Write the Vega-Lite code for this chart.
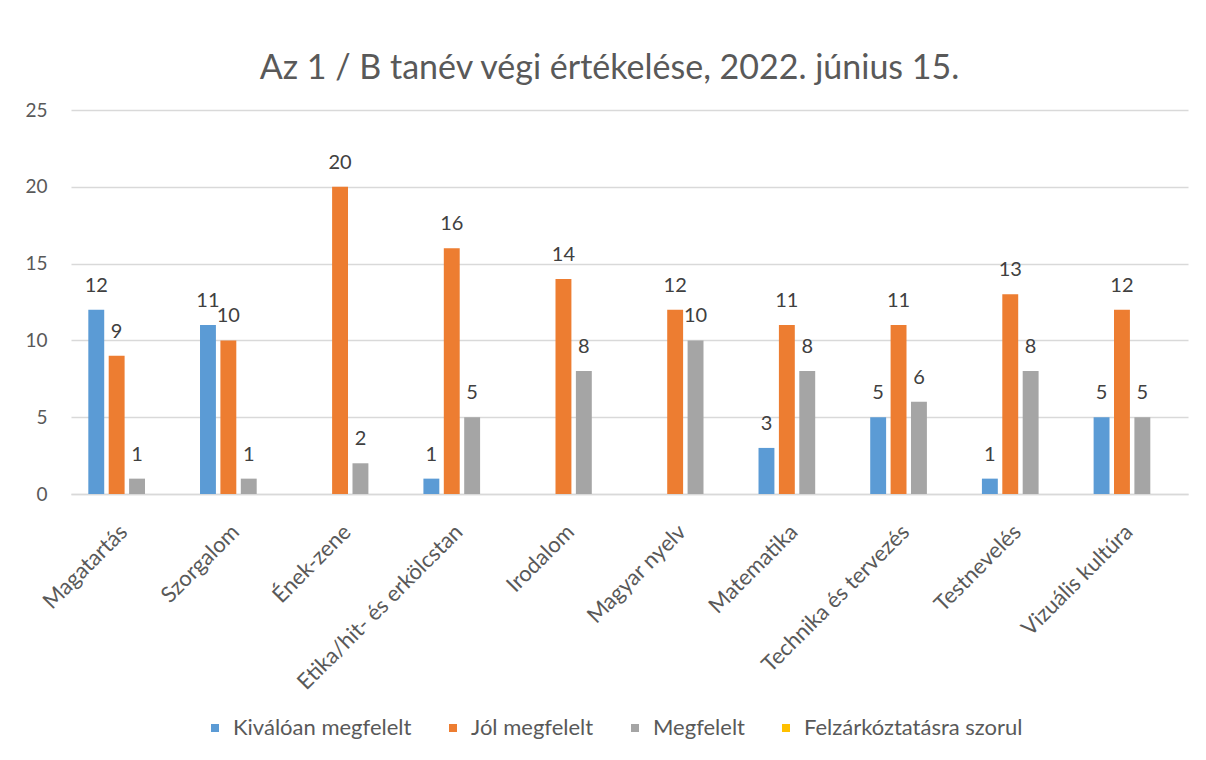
{
  "$schema": "https://vega.github.io/schema/vega-lite/v6.json",
  "autosize": {"type": "none"},
  "padding": {"left": 71, "top": 110, "right": 18, "bottom": 266},
  "width": 1117,
  "height": 384,
  "background": "white",
  "title": {
    "text": "Az 1 / B tanév végi értékelése, 2022. június 15.",
    "font": "Lato",
    "fontSize": 34,
    "fontWeight": "normal",
    "color": "#595959",
    "anchor": "middle",
    "frame": "group",
    "dx": -20,
    "dy": 43,
    "offset": 31,
    "baseline": "alphabetic"
  },
  "data": {
    "values": [
      {"subject": "Magatartás", "series": "Kiválóan megfelelt", "value": 12},
      {"subject": "Magatartás", "series": "Jól megfelelt", "value": 9},
      {"subject": "Magatartás", "series": "Megfelelt", "value": 1},
      {"subject": "Szorgalom", "series": "Kiválóan megfelelt", "value": 11},
      {"subject": "Szorgalom", "series": "Jól megfelelt", "value": 10},
      {"subject": "Szorgalom", "series": "Megfelelt", "value": 1},
      {"subject": "Ének-zene", "series": "Jól megfelelt", "value": 20},
      {"subject": "Ének-zene", "series": "Megfelelt", "value": 2},
      {"subject": "Etika/hit- és erkölcstan", "series": "Kiválóan megfelelt", "value": 1},
      {"subject": "Etika/hit- és erkölcstan", "series": "Jól megfelelt", "value": 16},
      {"subject": "Etika/hit- és erkölcstan", "series": "Megfelelt", "value": 5},
      {"subject": "Irodalom", "series": "Jól megfelelt", "value": 14},
      {"subject": "Irodalom", "series": "Megfelelt", "value": 8},
      {"subject": "Magyar nyelv", "series": "Jól megfelelt", "value": 12},
      {"subject": "Magyar nyelv", "series": "Megfelelt", "value": 10},
      {"subject": "Matematika", "series": "Kiválóan megfelelt", "value": 3},
      {"subject": "Matematika", "series": "Jól megfelelt", "value": 11},
      {"subject": "Matematika", "series": "Megfelelt", "value": 8},
      {"subject": "Technika és tervezés", "series": "Kiválóan megfelelt", "value": 5},
      {"subject": "Technika és tervezés", "series": "Jól megfelelt", "value": 11},
      {"subject": "Technika és tervezés", "series": "Megfelelt", "value": 6},
      {"subject": "Testnevelés", "series": "Kiválóan megfelelt", "value": 1},
      {"subject": "Testnevelés", "series": "Jól megfelelt", "value": 13},
      {"subject": "Testnevelés", "series": "Megfelelt", "value": 8},
      {"subject": "Vizuális kultúra", "series": "Kiválóan megfelelt", "value": 5},
      {"subject": "Vizuális kultúra", "series": "Jól megfelelt", "value": 12},
      {"subject": "Vizuális kultúra", "series": "Megfelelt", "value": 5}
    ]
  },
  "encoding": {
    "x": {
      "field": "subject",
      "type": "nominal",
      "sort": ["Magatartás", "Szorgalom", "Ének-zene", "Etika/hit- és erkölcstan", "Irodalom", "Magyar nyelv", "Matematika", "Technika és tervezés", "Testnevelés", "Vizuális kultúra"],
      "scale": {"paddingInner": 0.31, "paddingOuter": 0.155},
      "axis": {
        "title": null,
        "labelAngle": -45,
        "labelAlign": "right",
        "labelBaseline": "middle",
        "labelPadding": 34,
        "labelOffset": -3,
        "labelFont": "Lato",
        "labelFontSize": 22,
        "labelColor": "#595959",
        "labelLimit": 500,
        "ticks": false,
        "domainColor": "#D9D9D9",
        "domainWidth": 1.3,
        "grid": false
      }
    },
    "xOffset": {
      "field": "series",
      "type": "nominal",
      "scale": {
        "domain": ["Kiválóan megfelelt", "Jól megfelelt", "Megfelelt", "Felzárkóztatásra szorul"],
        "paddingInner": 0.22,
        "paddingOuter": 0
      }
    },
    "y": {
      "field": "value",
      "type": "quantitative",
      "scale": {"domain": [0, 25], "nice": false},
      "axis": {
        "title": null,
        "values": [0, 5, 10, 15, 20, 25],
        "labelFont": "Lato",
        "labelFontSize": 19,
        "labelColor": "#595959",
        "labelPadding": 24,
        "ticks": false,
        "domain": false,
        "gridColor": "#D9D9D9",
        "gridWidth": 1.3
      }
    }
  },
  "layer": [
    {
      "mark": {"type": "bar"},
      "encoding": {
        "color": {
          "field": "series",
          "type": "nominal",
          "scale": {
            "domain": ["Kiválóan megfelelt", "Jól megfelelt", "Megfelelt", "Felzárkóztatásra szorul"],
            "range": ["#5B9BD5", "#ED7D31", "#A5A5A5", "#FFC000"]
          },
          "legend": {
            "title": null,
            "orient": "none",
            "direction": "horizontal",
            "legendX": 133,
            "legendY": 607,
            "symbolType": "square",
            "symbolSize": 64,
            "symbolStrokeWidth": 0,
            "labelFont": "Lato",
            "labelFontSize": 22,
            "labelColor": "#595959",
            "labelOffset": 7,
            "columnPadding": 30,
            "labelLimit": 500
          }
        }
      }
    },
    {
      "mark": {"type": "text", "baseline": "alphabetic", "dy": -18, "font": "Lato", "fontSize": 20, "color": "#404040"},
      "encoding": {
        "text": {"field": "value", "type": "quantitative"}
      }
    }
  ],
  "config": {
    "view": {"stroke": null}
  }
}
